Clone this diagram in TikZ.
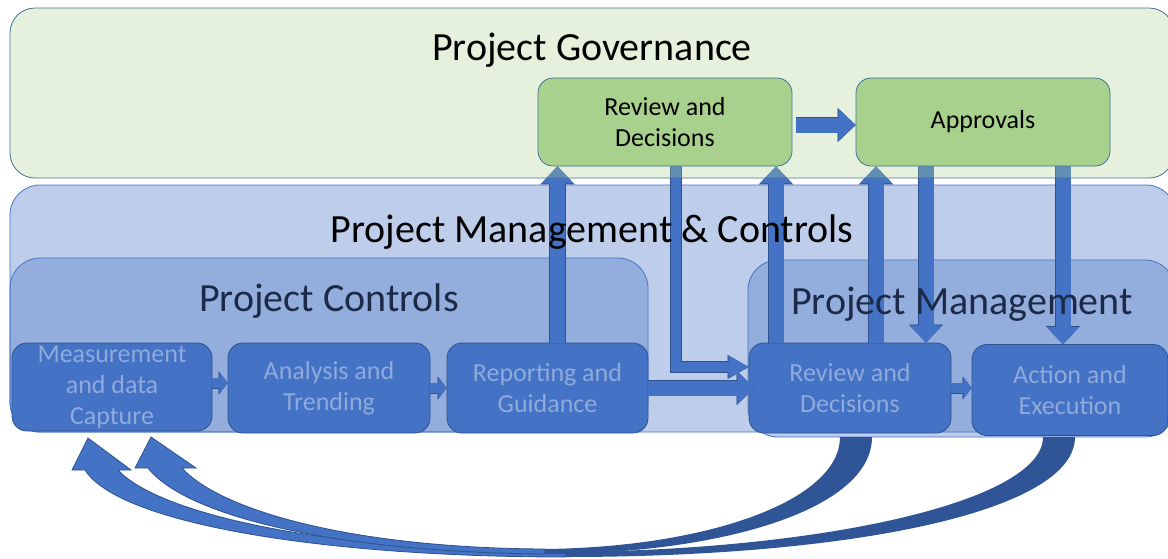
\documentclass[tikz,border=0pt]{standalone}
\usepackage{fontspec}
\setmainfont{Carlito}
\usetikzlibrary{arrows.meta}

\definecolor{accent}{HTML}{4472C4}
\definecolor{accentdark}{HTML}{2F528F}
\definecolor{accentdeep}{HTML}{2F5597}
\definecolor{leaf}{HTML}{A9D18E}
\definecolor{leafline}{HTML}{41719C}
\definecolor{paletext}{HTML}{8FAADC}
\definecolor{titleink}{HTML}{1C2A48}

\pgfdeclarelayer{back}
\pgfdeclarelayer{front}
\pgfsetlayers{back,main,front}

\tikzset{
	govbox/.style={draw=leafline, line width=0.8pt, fill=leaf, fill opacity=0.3,
		rounded corners=25pt, inner sep=0pt},
	region/.style={draw=accent, line width=0.8pt, fill=accent, fill opacity=0.35,
		rounded corners=30pt, inner sep=0pt},
	taskbox/.style={draw=accentdark, line width=0.8pt, fill=accent, text=paletext,
		rounded corners=15pt, inner sep=0pt, align=center},
	decision/.style={draw=leafline, line width=0.8pt, fill=leaf, text=black,
		rounded corners=15pt, inner sep=0pt, align=center,
		minimum width=254pt, minimum height=88pt},
	title/.style={font=\fontsize{40}{48}\selectfont, inner sep=0pt},
	flow/.style={line width=15pt, draw=accent,
		-{Triangle[width=32pt,length=17pt,line width=0.1pt]},
		preaction={draw=accentdark, line width=16.4pt,
			-{Triangle[width=34pt,length=18pt,line width=0.1pt]}}},
	thinflow/.style={line width=10pt, draw=accent,
		-{Triangle[width=22pt,length=20pt,line width=0.1pt]},
		preaction={draw=accentdark, line width=11.4pt,
			-{Triangle[width=24pt,length=21pt,line width=0.1pt]}}},
	stepflow/.style={line width=10pt, draw=accent,
		-{Triangle[width=21pt,length=8pt,line width=0.1pt]},
		preaction={draw=accentdark, line width=11pt,
			-{Triangle[width=23pt,length=9pt,line width=0.1pt]}}},
	loopback/.style={fill=accent, draw=accentdark, line width=0.8pt},
}

\begin{document}
\begin{tikzpicture}[x=1pt, y=-1pt, font=\fontsize{26}{31}\selectfont]
	\useasboundingbox (0,0) rectangle (1168,558);

	%% Governance level
	\begin{pgfonlayer}{front}
	\node[govbox, minimum width=1164pt, minimum height=170pt] (gov) at (592,93) {};
	\node[decision] (grd) at (665,122) {Review and\\Decisions};
	\node[decision] (appr) at (983,122) {Approvals};
	\draw[flow] ([xshift=4pt,yshift=-3pt]grd.east) -- ([yshift=-3pt]grd.east -| appr.west);
	\node[title] at (592,50) {Project Governance};
	\node[title] at (592,232) {Project Management \& Controls};
	\node[title, text=titleink] at (329,301) {Project Controls};
	\node[title, text=titleink] at (962,304) {Project Management};
	\end{pgfonlayer}

	%% Management & controls containers
	\begin{pgfonlayer}{back}
	\node[region, minimum width=1166pt, minimum height=247pt] (pmc) at (593,308.5) {};
	\node[region, minimum width=638pt, minimum height=174pt] (ctl) at (329,345) {};
	\node[region, minimum width=427pt, minimum height=177pt] (pm) at (961.5,348.5) {};

	% Tasks
	\node[taskbox, minimum width=200pt, minimum height=88pt] (meas) at (112,387)
		{Measurement\\and data\\Capture};
	\node[taskbox, minimum width=202pt, minimum height=90pt] (ana) at (329,388)
		{Analysis and\\Trending};
	\node[taskbox, minimum width=201pt, minimum height=90pt] (rep) at (547.5,388)
		{Reporting and\\Guidance};
	\node[taskbox, minimum width=202pt, minimum height=90pt] (rev) at (850,388)
		{Review and\\Decisions};
	\node[taskbox, minimum width=196pt, minimum height=91pt] (act) at (1070,390)
		{Action and\\Execution};
	\end{pgfonlayer}

	%% Flows between tasks
	\draw[stepflow] ([yshift=4pt]meas.east) -- ([yshift=4pt]meas.east -| ana.west);
	\draw[stepflow] (ana.east) -- (rep.west);
	\draw[stepflow] (rev.east) -- (rev.east -| act.west);
	\draw[flow] (rep.east) -- ([xshift=6pt]rev.west |- rep.east);
	\draw[thinflow] ([xshift=11pt]grd.south) |- ([yshift=21pt]rev.west);

	%% Up to governance, down to management
	\draw[flow] ([xshift=10pt]rep.north) -- ([xshift=10pt]rep.north |- grd.south);
	\draw[flow] ([xshift=-74pt]rev.north) -- ([xshift=-74pt]rev.north |- grd.south);
	\draw[flow] ([xshift=26pt]rev.north) -- ([xshift=26pt]rev.north |- appr.south);
	\draw[flow] ([xshift=-57pt]appr.south) -- ([xshift=-57pt]appr.south |- rev.north);
	\draw[flow] ([xshift=80pt]appr.south) -- ([xshift=80pt]appr.south |- act.north);

	%% Feedback loops
	\fill[accentdeep] (1075,437) .. controls (1075,512) and (850,557) .. (565,557)
		-- (565,552) .. controls (830,550) and (1043,500) .. (1043,437) -- cycle;
	\filldraw[loopback] (565,557) .. controls (330,557) and (120,525) .. (85,470)
		-- (72,470) -- (88,438) -- (131,470) -- (118,470)
		.. controls (160,515) and (330,552) .. (565,552) -- cycle;
	\fill[accentdeep] (872,437) .. controls (872,510) and (720,554) .. (545,554)
		-- (545,549) .. controls (710,547) and (840,500) .. (840,437) -- cycle;
	\filldraw[loopback] (545,554) .. controls (330,552) and (185,515) .. (148,468)
		-- (135,468) -- (151,437) -- (196,468) -- (182,468)
		.. controls (220,510) and (350,548) .. (545,549) -- cycle;

\end{tikzpicture}
\end{document}
